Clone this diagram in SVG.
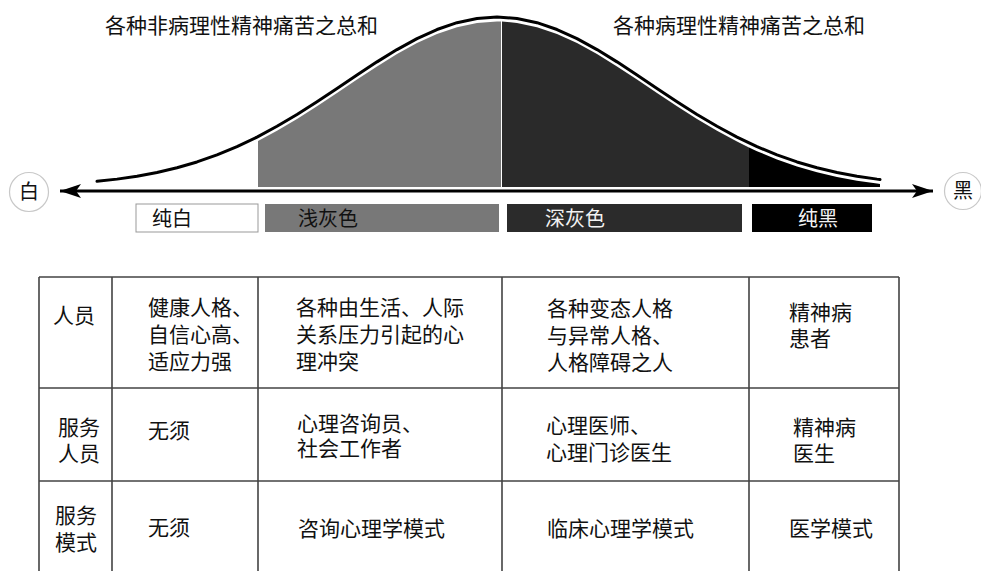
<svg xmlns="http://www.w3.org/2000/svg" width="981" height="571" viewBox="0 0 981 571">
<style>
text{font-family:"Liberation Sans","Noto Sans CJK SC",sans-serif;font-size:21px;fill:#111;}
.t{font-size:20px;}
.w{fill:#f2f2f2;}
.grid{stroke:#444;stroke-width:1.6;fill:none;}
.curve{fill:none;stroke:#000;stroke-width:3;stroke-linejoin:round;stroke-linecap:round;}
</style>
<defs>
<marker id="arr" viewBox="0 0 22 14" refX="21" refY="7" markerWidth="22" markerHeight="14" markerUnits="userSpaceOnUse" orient="auto-start-reverse">
<path d="M21,7 L0,0 L5,7 L0,14 Z" fill="#000"/>
</marker>
</defs>
<rect width="981" height="571" fill="#fff"/>
<g id="titles">
<text x="105" y="33">各种非病理性精神痛苦之总和</text>
<text x="613" y="33">各种病理性精神痛苦之总和</text>
</g>
<g id="areas">
<polygon fill="#787878" points="258,141.1 277,130.8 297,118.9 317,106.2 337,92.9 357,79.5 377,66.4 397,54.1 417,43.1 437,34 457,27.2 477,22.9 497,21.5 501,21.6 501,187 258,187"/>
<polygon fill="#2a2a2a" points="502,21.6 517,22.9 537,27.2 557,34 577,43.1 597,54.1 617,66.4 637,79.5 657,92.9 677,106.2 697,118.9 717,130.8 737,141.6 749,147.5 749,187 502,187"/>
<polygon fill="#000" points="749,147.5 757,151.2 777,159.4 797,166.5 817,172.3 837,177 857,180.7 877,183.6 880,184 880,187 749,187"/>
</g>
<g id="curve">
<polyline class="curve" points="97,181.35 117,179.13 137,176.21 157,172.47 177,167.76 197,161.95 217,154.94 237,146.65 257,137.09 277,126.3 297,114.42 317,101.68 337,88.39 357,74.97 377,61.87 397,49.58 417,38.64 437,29.54 457,22.69 477,18.44 497,17 517,18.44 537,22.69 557,29.54 577,38.64 597,49.58 617,61.87 637,74.97 657,88.39 677,101.68 697,114.42 717,126.3 737,137.09 757,146.65 777,154.94 797,161.95 817,167.76 837,172.47 857,176.21 877,179.13 880,179.5"/>
</g>
<g id="connectors">
<line x1="60" y1="191" x2="933" y2="191" stroke="#000" stroke-width="3" marker-start="url(#arr)" marker-end="url(#arr)"/>
</g>
<g id="white-end">
<circle cx="29" cy="192" r="19.5" fill="#fff" stroke="#c8c8c8" stroke-width="1.2"/>
<text x="29" y="199" text-anchor="middle" class="t">白</text>
</g>
<g id="black-end">
<circle cx="963" cy="191" r="18.5" fill="#fff" stroke="#c8c8c8" stroke-width="1.2"/>
<text x="963" y="198" text-anchor="middle" class="t">黑</text>
</g>
<g id="bar-pure-white">
<rect x="136" y="204" width="122" height="28" fill="#fff" stroke="#999" stroke-width="1"/>
<text x="152" y="226" class="t">纯白</text>
</g>
<g id="bar-light-grey">
<rect x="265" y="204" width="234" height="28" fill="#787878"/>
<text x="298" y="226" class="t">浅灰色</text>
</g>
<g id="bar-dark-grey">
<rect x="507" y="204" width="235" height="28" fill="#2b2b2b"/>
<text x="545" y="226" class="t w">深灰色</text>
</g>
<g id="bar-pure-black">
<rect x="752" y="204" width="120" height="28" fill="#000"/>
<text x="798" y="226" class="t w">纯黑</text>
</g>
<g id="table">
<path class="grid" d="M39,277 H899 M39,388 H899 M39,481 H899 M39,277 V571 M112,277 V571 M258,277 V571 M502,277 V571 M749,277 V571 M899,277 V571"/>
</g>
<g id="row-people">
<text x="53" y="323">人员</text>
<text y="315"><tspan x="148">健康人格、</tspan><tspan x="148" dy="27">自信心高、</tspan><tspan x="148" dy="27">适应力强</tspan></text>
<text y="315"><tspan x="296">各种由生活、人际</tspan><tspan x="296" dy="27">关系压力引起的心</tspan><tspan x="296" dy="27">理冲突</tspan></text>
<text y="316"><tspan x="547">各种变态人格</tspan><tspan x="547" dy="27">与异常人格、</tspan><tspan x="547" dy="27">人格障碍之人</tspan></text>
<text y="320"><tspan x="789">精神病</tspan><tspan x="789" dy="26">患者</tspan></text>
</g>
<g id="row-staff">
<text y="435"><tspan x="58">服务</tspan><tspan x="58" dy="26">人员</tspan></text>
<text x="148" y="438">无须</text>
<text y="431"><tspan x="297">心理咨询员、</tspan><tspan x="297" dy="25">社会工作者</tspan></text>
<text y="433"><tspan x="546">心理医师、</tspan><tspan x="546" dy="27">心理门诊医生</tspan></text>
<text y="435"><tspan x="793">精神病</tspan><tspan x="793" dy="26">医生</tspan></text>
</g>
<g id="row-mode">
<text y="523"><tspan x="55">服务</tspan><tspan x="55" dy="27">模式</tspan></text>
<text x="148" y="535">无须</text>
<text x="298" y="536">咨询心理学模式</text>
<text x="547" y="536">临床心理学模式</text>
<text x="789" y="536">医学模式</text>
</g>
</svg>
